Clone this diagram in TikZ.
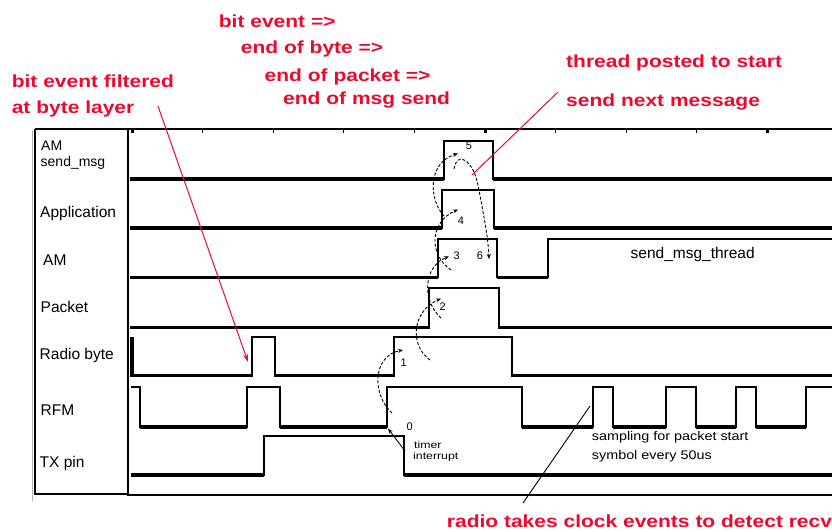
\documentclass[tikz,border=0pt]{standalone}
\usepackage{fontspec}
\setmainfont{Liberation Sans}
\usetikzlibrary{arrows.meta}
\definecolor{callred}{RGB}{235,10,45}
\begin{document}
\begin{tikzpicture}[x=1pt,y=-1pt,
  wave/.style={line width=2pt, line join=miter},
  thinwave/.style={line width=1.3pt, line join=miter},
  lowline/.style={line width=3.2pt},
  frame/.style={line width=1.3pt},
  lbl/.style={font=\fontsize{15.5}{18}\selectfont, anchor=base west, inner sep=0pt},
  smalllbl/.style={font=\fontsize{14}{16}\selectfont, anchor=base west, inner sep=0pt},
  note/.style={font=\fontsize{12.5}{14}\selectfont, anchor=base west, inner sep=0pt},
  tiny/.style={font=\fontsize{10}{11}\selectfont, anchor=base west, inner sep=0pt},
  dig/.style={font=\fontsize{11}{12}\selectfont, anchor=base west, inner sep=0pt},
  redlbl/.style={text=callred, font=\fontsize{17.5}{20}\selectfont\bfseries, anchor=base west, inner sep=0pt},
  cause/.style={dash pattern=on 3pt off 1.8pt, line width=0.9pt},
  tip/.style={-{Stealth[length=5pt,width=4pt]}},
  redtip/.style={-{Stealth[length=8pt,width=5pt]}}]
\clip (0,0) rectangle (832,531);

% frame
\draw[gray!60, line width=1.2pt] (32.5,130) -- (32.5,501);
\draw[frame] (35,129) -- (832,129);
\draw[frame] (35,129) -- (35,494) -- (128,494);
\draw[frame] (128,129) -- (128,494);
\draw[line width=2.5pt] (127,495) -- (832,495);
\foreach \k in {0,...,9} \draw[line width=1.3pt] ({132+70.6*\k},129) -- ({132+70.6*\k},133);
\fill (130.5,129) rectangle (134,133);
\fill (483.5,129) rectangle (487,133);
\fill (765.5,129) rectangle (769,133);

% row labels
\node[smalllbl] (lAM1) at (41,150) {AM};
\node[smalllbl] (lsend) at (40.5,166.5) {send\_msg};
\node[lbl] (lapp) at (40,217.5) {Application};
\node[lbl] (lAM2) at (43,265) {AM};
\node[lbl] (lpkt) at (40.5,312.5) {Packet};
\node[lbl] (lrb) at (39.5,359) {Radio byte};
\node[lbl] (lrfm) at (40.5,415.5) {RFM};
\node[lbl] (ltx) at (39.5,467) {TX pin};

% AM send_msg
\draw[wave] (130,179) -- (444,179) -- (444,141) -- (493,141) -- (493,179) -- (832,179);
\draw[lowline] (130,179) -- (444,179) (493,179) -- (832,179);
% Application
\draw[wave] (130,228) -- (442,228) -- (442,190) -- (494,190) -- (494,228) -- (832,228);
\draw[lowline] (130,228) -- (442,228) (494,228) -- (832,228);
% AM
\draw[thinwave] (130,277.5) -- (438,277.5) -- (438,239) -- (497,239) -- (497,277.5) -- (548,277.5) -- (548,239) -- (832,239);
\draw[lowline] (130,277.5) -- (438,277.5) (497,277.5) -- (548,277.5);
% Packet
\draw[wave] (130,327.5) -- (429,327.5) -- (429,288) -- (499,288) -- (499,327.5) -- (832,327.5);
\draw[lowline] (130,327.5) -- (429,327.5) (499,327.5) -- (832,327.5);
% Radio byte
\draw[wave] (132,337) -- (132,375.5) -- (252,375.5) -- (252,337) -- (275,337) -- (275,375.5) -- (394,375.5) -- (394,337) -- (512,337) -- (512,375.5) -- (832,375.5);
\draw[lowline] (132,337) -- (132,375.5) -- (252,375.5) (275,375.5) -- (394,375.5) (512,375.5) -- (832,375.5);
% RFM
\draw[wave] (131,387) -- (140,387) -- (140,427) -- (247,427) -- (247,387) -- (280,387) -- (280,427) -- (387,427) -- (387,387) -- (522,387) -- (522,427) -- (593,427) -- (593,387) -- (613,387) -- (613,427) -- (666,427) -- (666,387) -- (696,387) -- (696,427) -- (736,427) -- (736,387) -- (756,387) -- (756,427) -- (806,427) -- (806,387) -- (832,387);
\draw[lowline] (140,427) -- (247,427) (280,427) -- (387,427) (522,427) -- (593,427) (613,427) -- (666,427) (696,427) -- (736,427) (756,427) -- (806,427);
% TX pin
\draw[wave] (131,475) -- (264,475) -- (264,436) -- (404,436) -- (404,475) -- (832,475);
\draw[lowline] (131,475) -- (264,475) (404,475) -- (832,475);

% texts in the timeline
\node[lbl, anchor=base] (thr) at (692.7,258.3) {send\_msg\_thread};
\node[note] (samp1) at (591.7,440.7) {\scalebox{1.15}[1]{sampling for packet start}};
\node[note] (samp2) at (591.7,459.3) {\scalebox{1.15}[1]{symbol every 50us}};
\node[tiny] (tim1) at (414,448.7) {\scalebox{1.23}[1]{timer}};
\node[tiny] (tim2) at (413,459.3) {\scalebox{1.23}[1]{interrupt}};
\node[dig] (d0) at (406.5,430.7) {0};
\node[dig] (d1) at (400.5,366.5) {1};
\node[dig] (d2) at (439.5,310.7) {2};
\node[dig] (d3) at (453.3,259.3) {3};
\node[dig] (d4) at (457.7,224) {4};
\node[dig] (d5) at (465.7,149.3) {5};
\node[dig] (d6) at (476.7,259.3) {6};

% causality arcs
\coordinate (tiA) at (405,451);
\coordinate (tiB) at (388,428.5);
\draw[line width=0.9pt, tip] (tiA) -- (tiB);
\coordinate (c0s) at (392,413);
\coordinate (c0e) at (403,350);
\draw[cause, tip] (c0s) .. controls (372,395) and (372,356) .. (c0e);
\coordinate (c1s) at (430,360);
\coordinate (c1e) at (441,298.5);
\draw[cause, tip] (c1s) .. controls (410,346) and (411,312) .. (c1e);
\coordinate (c2s) at (441,318);
\coordinate (c2e) at (449,256.5);
\draw[cause, tip] (c2s) .. controls (421,300) and (424,266) .. (c2e);
\coordinate (c3s) at (451,270);
\coordinate (c3e) at (458,209.5);
\draw[cause, tip] (c3s) .. controls (428,254) and (430,222) .. (c3e);
\coordinate (c4s) at (444,216);
\coordinate (c4e) at (458,153.5);
\draw[cause, tip] (c4s) .. controls (429,200) and (427,163) .. (c4e);
\coordinate (c5s) at (454,169);
\coordinate (c5e) at (489,259);
\draw[cause, tip] (c5s) .. controls (457,150) and (473,160) .. (478,185) .. controls (483,212) and (488,235) .. (c5e);

% red callouts
\node[redlbl] (t1) at (218.7,27.3) {\scalebox{1.2}[1]{bit event =>}};
\node[redlbl] (t2) at (240.7,53.3) {\scalebox{1.2}[1]{end of byte =>}};
\node[redlbl] (t3) at (264.5,81) {\scalebox{1.2}[1]{end of packet =>}};
\node[redlbl] (t4) at (283,104.3) {\scalebox{1.2}[1]{end of msg send}};
\node[redlbl] (f1) at (11.6,87.3) {\scalebox{1.2}[1]{bit event filtered}};
\node[redlbl] (f2) at (11.6,113.3) {\scalebox{1.2}[1]{at byte layer}};
\node[redlbl] (p1) at (566,67.3) {\scalebox{1.2}[1]{thread posted to start}};
\node[redlbl] (p2) at (566,106) {\scalebox{1.2}[1]{send next message}};
\node[redlbl] (r1) at (446.7,527) {\scalebox{1.2}[1]{radio takes clock events to detect recv}};

\coordinate (fa) at (158,106);
\coordinate (fb) at (248,362);
\draw[callred, line width=1pt, redtip] (fa) -- (fb);
\coordinate (pa) at (558,92);
\coordinate (pb) at (472,175);
\draw[callred, line width=1pt] (pa) -- (pb);
\coordinate (ra) at (523,503);
\coordinate (rb) at (590,406);
\draw[line width=0.9pt] (ra) -- (rb);
\end{tikzpicture}
\end{document}
